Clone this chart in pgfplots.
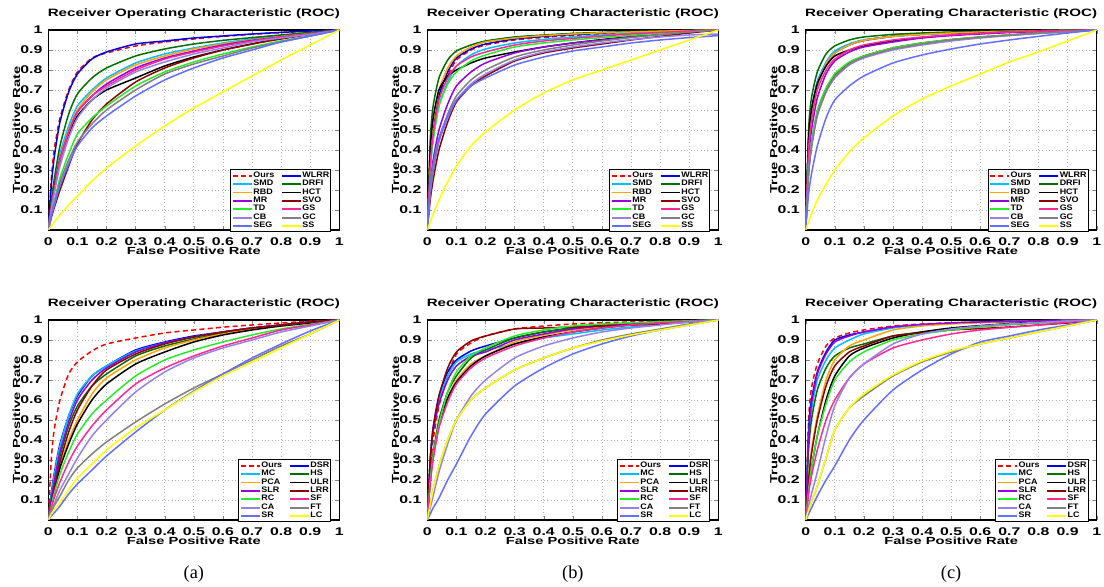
\documentclass[border=0pt]{standalone}
\usepackage{fontspec}
\setmainfont{Liberation Sans}
\newfontfamily\capfont{Liberation Serif}
\newfontfamily\wide[FakeStretch=1.42]{Liberation Sans}
\newfontfamily\lwide[FakeStretch=1.12]{Liberation Sans}
\usepackage{graphicx}
\usepackage{pgfplots}
\usepackage{pgfplotstable}
\pgfplotsset{compat=1.18}

\definecolor{cCyan}{RGB}{0,190,255}
\definecolor{cOrange}{RGB}{255,165,0}
\definecolor{cPurple}{RGB}{150,0,225}
\definecolor{cGreen}{RGB}{40,235,40}
\definecolor{cLav}{RGB}{150,130,230}
\definecolor{cSoftBlue}{RGB}{100,110,255}
\definecolor{cBlue}{RGB}{0,0,235}
\definecolor{cDkGreen}{RGB}{0,110,0}
\definecolor{cDkRed}{RGB}{140,0,0}
\definecolor{cPink}{RGB}{255,40,150}
\definecolor{cGray}{RGB}{128,128,128}
\definecolor{cYellow}{RGB}{255,255,0}

% FPR rows, one column per method
\pgfplotstableread{
x    Ours  SMD   RBD   MR    TD    CB    SEG   WLRR  DRFI  HCT   SVO   GS    GC    SS
0    0     0     0     0     0     0     0     0     0     0     0     0     0     0
0.01 0.25  0.12  0.12  0.11  0.08  0.10  0.07  0.22  0.14  0.12  0.06  0.11  0.07  0.02
0.02 0.40  0.22  0.21  0.20  0.14  0.18  0.12  0.36  0.25  0.21  0.11  0.20  0.13  0.04
0.04 0.56  0.38  0.36  0.35  0.26  0.32  0.22  0.54  0.42  0.35  0.20  0.35  0.24  0.075
0.07 0.70  0.52  0.50  0.49  0.38  0.46  0.33  0.69  0.58  0.48  0.32  0.49  0.35  0.125
0.10 0.79  0.62  0.60  0.59  0.48  0.56  0.42  0.78  0.68  0.57  0.43  0.59  0.44  0.17
0.15 0.86  0.70  0.69  0.67  0.56  0.65  0.51  0.855 0.76  0.65  0.55  0.67  0.53  0.245
0.20 0.885 0.76  0.75  0.73  0.62  0.71  0.57  0.89  0.81  0.70  0.63  0.72  0.60  0.31
0.30 0.92  0.835 0.825 0.81  0.72  0.79  0.67  0.93  0.87  0.76  0.74  0.80  0.70  0.42
0.40 0.94  0.88  0.87  0.86  0.79  0.84  0.75  0.945 0.905 0.82  0.81  0.855 0.78  0.52
0.50 0.955 0.91  0.905 0.895 0.84  0.88  0.81  0.96  0.93  0.865 0.86  0.89  0.83  0.61
0.60 0.968 0.935 0.93  0.925 0.88  0.91  0.86  0.97  0.948 0.90  0.90  0.92  0.87  0.69
0.70 0.978 0.955 0.95  0.948 0.915 0.94  0.90  0.98  0.962 0.93  0.93  0.945 0.91  0.77
0.80 0.987 0.97  0.967 0.965 0.945 0.96  0.94  0.988 0.975 0.96  0.955 0.965 0.94  0.85
0.90 0.994 0.985 0.982 0.98  0.97  0.978 0.97  0.995 0.988 0.98  0.978 0.98  0.97  0.925
1    1     1     1     1     1     1     1     1     1     1     1     1     1     1
}\tabA

\pgfplotstableread{
x    Ours  SMD   RBD   MR    TD    CB    SEG   WLRR  DRFI  HCT   SVO   GS    GC    SS
0    0     0     0     0     0     0     0     0     0     0     0     0     0     0
0.01 0.35  0.30  0.38  0.22  0.30  0.20  0.22  0.33  0.45  0.40  0.15  0.32  0.18  0.04
0.02 0.50  0.45  0.54  0.35  0.45  0.30  0.33  0.49  0.62  0.56  0.25  0.48  0.29  0.08
0.04 0.66  0.62  0.70  0.50  0.62  0.44  0.46  0.67  0.76  0.70  0.40  0.65  0.45  0.15
0.07 0.77  0.74  0.81  0.63  0.73  0.56  0.57  0.79  0.85  0.77  0.54  0.76  0.58  0.24
0.10 0.85  0.82  0.87  0.72  0.79  0.65  0.65  0.86  0.895 0.80  0.64  0.82  0.67  0.32
0.15 0.90  0.875 0.915 0.79  0.845 0.73  0.72  0.905 0.925 0.835 0.72  0.865 0.75  0.42
0.20 0.925 0.905 0.94  0.835 0.875 0.78  0.76  0.93  0.945 0.86  0.77  0.89  0.80  0.49
0.30 0.95  0.935 0.96  0.885 0.915 0.85  0.825 0.955 0.965 0.89  0.845 0.925 0.865 0.60
0.40 0.963 0.953 0.972 0.915 0.935 0.89  0.865 0.968 0.975 0.915 0.885 0.945 0.90  0.685
0.50 0.973 0.965 0.98  0.935 0.95  0.915 0.895 0.977 0.983 0.935 0.91  0.958 0.925 0.75
0.60 0.98  0.975 0.986 0.95  0.962 0.935 0.915 0.984 0.988 0.952 0.93  0.97  0.945 0.80
0.70 0.986 0.983 0.99  0.965 0.973 0.952 0.935 0.99  0.992 0.967 0.95  0.98  0.962 0.85
0.80 0.991 0.99  0.994 0.978 0.983 0.965 0.95  0.994 0.995 0.98  0.968 0.988 0.976 0.90
0.90 0.996 0.995 0.997 0.99  0.992 0.975 0.962 0.997 0.998 0.99  0.985 0.995 0.99  0.95
1    1     1     1     1     1     0.98  0.972 1     1     1     1     1     1     1
}\tabB

\pgfplotstableread{
x    Ours  SMD   RBD   MR    TD    CB    SEG   WLRR  DRFI  HCT   SVO   GS    GC    SS
0    0     0     0     0     0     0     0     0     0     0     0     0     0     0
0.01 0.40  0.42  0.40  0.35  0.30  0.30  0.18  0.45  0.50  0.45  0.28  0.40  0.28  0.04
0.02 0.56  0.58  0.56  0.50  0.44  0.43  0.28  0.60  0.66  0.60  0.42  0.55  0.41  0.08
0.04 0.72  0.74  0.72  0.66  0.60  0.58  0.42  0.74  0.79  0.73  0.58  0.70  0.57  0.15
0.07 0.83  0.84  0.83  0.78  0.71  0.69  0.56  0.83  0.88  0.82  0.70  0.80  0.69  0.23
0.10 0.89  0.895 0.885 0.845 0.78  0.76  0.65  0.885 0.92  0.87  0.775 0.855 0.765 0.30
0.15 0.93  0.93  0.925 0.89  0.84  0.825 0.72  0.925 0.95  0.90  0.835 0.90  0.83  0.39
0.20 0.95  0.95  0.948 0.915 0.87  0.86  0.77  0.947 0.965 0.92  0.87  0.925 0.865 0.46
0.30 0.97  0.968 0.968 0.94  0.91  0.90  0.835 0.968 0.978 0.945 0.91  0.95  0.905 0.57
0.40 0.98  0.978 0.978 0.96  0.935 0.925 0.875 0.978 0.985 0.962 0.935 0.965 0.93  0.655
0.50 0.986 0.985 0.985 0.972 0.952 0.945 0.905 0.985 0.99  0.975 0.952 0.976 0.95  0.72
0.60 0.99  0.99  0.99  0.98  0.965 0.96  0.93  0.99  0.993 0.983 0.965 0.984 0.963 0.78
0.70 0.994 0.993 0.993 0.987 0.975 0.972 0.95  0.993 0.995 0.99  0.975 0.99  0.974 0.84
0.80 0.996 0.996 0.996 0.992 0.984 0.982 0.968 0.996 0.997 0.994 0.985 0.994 0.984 0.89
0.90 0.998 0.998 0.998 0.996 0.992 0.99  0.985 0.998 0.999 0.997 0.993 0.997 0.992 0.945
1    1     1     1     1     1     1     1     1     1     1     1     1     1     1
}\tabC

\pgfplotstableread{
x    Ours  MC    PCA   SLR   RC    CA    SR    DSR   HS    ULR   LRR   SF    FT    LC
0    0     0     0     0     0     0     0     0     0     0     0     0     0     0
0.01 0.30  0.12  0.08  0.10  0.07  0.04  0.02  0.13  0.10  0.07  0.08  0.06  0.04  0.03
0.02 0.45  0.22  0.15  0.19  0.13  0.08  0.035 0.23  0.18  0.14  0.15  0.11  0.07  0.05
0.04 0.60  0.37  0.27  0.34  0.23  0.15  0.07  0.38  0.32  0.26  0.29  0.19  0.12  0.09
0.07 0.73  0.52  0.40  0.49  0.34  0.23  0.13  0.52  0.47  0.38  0.44  0.29  0.20  0.15
0.10 0.79  0.63  0.50  0.60  0.43  0.31  0.18  0.62  0.57  0.48  0.55  0.37  0.26  0.21
0.15 0.845 0.72  0.63  0.70  0.53  0.42  0.25  0.72  0.67  0.60  0.67  0.47  0.33  0.28
0.20 0.88  0.77  0.71  0.76  0.60  0.50  0.32  0.77  0.73  0.68  0.75  0.55  0.39  0.35
0.30 0.91  0.845 0.80  0.84  0.72  0.64  0.44  0.85  0.82  0.78  0.83  0.68  0.49  0.46
0.40 0.935 0.885 0.86  0.885 0.80  0.74  0.55  0.89  0.87  0.84  0.88  0.76  0.58  0.55
0.50 0.95  0.915 0.90  0.915 0.85  0.81  0.645 0.92  0.905 0.89  0.915 0.82  0.66  0.64
0.60 0.964 0.94  0.93  0.94  0.89  0.86  0.73  0.94  0.935 0.925 0.94  0.87  0.73  0.72
0.70 0.975 0.96  0.955 0.96  0.925 0.90  0.81  0.96  0.958 0.95  0.96  0.91  0.80  0.79
0.80 0.985 0.975 0.97  0.975 0.955 0.94  0.88  0.975 0.975 0.97  0.975 0.95  0.87  0.86
0.90 0.994 0.99  0.985 0.99  0.978 0.97  0.945 0.99  0.99  0.985 0.99  0.975 0.93  0.93
1    1     1     1     1     1     1     1     1     1     1     1     1     1     1
}\tabD

\pgfplotstableread{
x    Ours  MC    PCA   SLR   RC    CA    SR    DSR   HS    ULR   LRR   SF    FT    LC
0    0     0     0     0     0     0     0     0     0     0     0     0     0     0
0.01 0.25  0.30  0.20  0.30  0.20  0.06  0.03  0.30  0.20  0.20  0.30  0.18  0.08  0.08
0.02 0.40  0.45  0.32  0.44  0.32  0.12  0.06  0.46  0.33  0.32  0.46  0.30  0.15  0.15
0.04 0.57  0.60  0.48  0.58  0.48  0.24  0.11  0.62  0.50  0.48  0.62  0.46  0.27  0.27
0.07 0.72  0.72  0.61  0.70  0.64  0.38  0.20  0.74  0.64  0.61  0.76  0.59  0.40  0.40
0.10 0.83  0.79  0.70  0.77  0.74  0.50  0.28  0.80  0.72  0.69  0.84  0.68  0.50  0.50
0.15 0.885 0.83  0.78  0.82  0.82  0.62  0.42  0.845 0.81  0.77  0.895 0.76  0.60  0.60
0.20 0.92  0.85  0.82  0.84  0.86  0.70  0.53  0.87  0.85  0.82  0.92  0.81  0.66  0.66
0.30 0.955 0.88  0.89  0.90  0.92  0.81  0.67  0.91  0.91  0.88  0.955 0.87  0.75  0.75
0.40 0.97  0.91  0.925 0.93  0.95  0.87  0.76  0.94  0.94  0.915 0.96  0.91  0.81  0.81
0.50 0.98  0.93  0.95  0.955 0.97  0.91  0.83  0.96  0.96  0.94  0.965 0.94  0.86  0.86
0.60 0.986 0.95  0.965 0.97  0.98  0.94  0.88  0.972 0.973 0.96  0.97  0.96  0.90  0.895
0.70 0.99  0.965 0.975 0.98  0.986 0.96  0.92  0.982 0.983 0.975 0.975 0.975 0.93  0.925
0.80 0.994 0.978 0.985 0.988 0.991 0.975 0.95  0.99  0.99  0.985 0.98  0.985 0.955 0.95
0.90 0.997 0.99  0.993 0.994 0.996 0.99  0.975 0.995 0.995 0.993 0.99  0.993 0.98  0.975
1    1     1     1     1     1     1     1     1     1     1     1     1     1     1
}\tabE

\pgfplotstableread{
x    Ours  MC    PCA   SLR   RC    CA    SR    DSR   HS    ULR   LRR   SF    FT    LC
0    0     0     0     0     0     0     0     0     0     0     0     0     0     0
0.01 0.50  0.40  0.22  0.42  0.15  0.07  0.03  0.45  0.35  0.15  0.20  0.13  0.05  0.05
0.02 0.66  0.55  0.35  0.58  0.26  0.13  0.06  0.60  0.50  0.26  0.33  0.22  0.09  0.09
0.04 0.78  0.70  0.52  0.73  0.42  0.24  0.12  0.74  0.65  0.42  0.50  0.35  0.17  0.17
0.07 0.87  0.80  0.70  0.83  0.58  0.42  0.20  0.84  0.76  0.60  0.67  0.50  0.31  0.31
0.10 0.91  0.86  0.80  0.89  0.70  0.57  0.27  0.90  0.82  0.72  0.77  0.60  0.45  0.45
0.15 0.935 0.90  0.87  0.92  0.79  0.71  0.40  0.925 0.86  0.82  0.84  0.71  0.56  0.56
0.20 0.95  0.93  0.90  0.94  0.84  0.78  0.50  0.94  0.88  0.86  0.87  0.78  0.62  0.63
0.30 0.97  0.96  0.95  0.965 0.90  0.88  0.65  0.965 0.92  0.91  0.92  0.86  0.72  0.725
0.40 0.98  0.975 0.97  0.978 0.93  0.93  0.75  0.975 0.94  0.94  0.935 0.90  0.79  0.795
0.50 0.986 0.984 0.98  0.985 0.95  0.955 0.83  0.983 0.955 0.96  0.95  0.93  0.84  0.845
0.60 0.99  0.99  0.987 0.99  0.965 0.97  0.89  0.988 0.967 0.972 0.957 0.95  0.88  0.88
0.70 0.994 0.993 0.992 0.993 0.977 0.98  0.92  0.992 0.977 0.982 0.965 0.963 0.91  0.91
0.80 0.996 0.996 0.995 0.996 0.986 0.988 0.95  0.995 0.986 0.99  0.975 0.975 0.94  0.94
0.90 0.998 0.998 0.998 0.998 0.994 0.995 0.975 0.998 0.994 0.995 0.985 0.988 0.97  0.97
1    1     1     1     1     1     1     1     1     1     1     1     1     1     1
}\tabF

\pgfplotsset{
  rocaxis/.style={
    scale only axis, width=174.6pt, height=120pt,
    xmin=0, xmax=1, ymin=0, ymax=1,
    xtick={0,0.1,0.2,0.3,0.4,0.5,0.6,0.7,0.8,0.9,1},
    ytick={0.1,0.2,0.3,0.4,0.5,0.6,0.7,0.8,0.9,1},
    /pgf/number format/assume math mode=true,
    tick label style={font=\wide\bfseries\fontsize{6.7}{7}\selectfont},
    xticklabel style={yshift=-1.2pt},
    tick align=inside, major tick length=2.5pt,
    grid=major, grid style={dash pattern=on 0.6pt off 1.4pt, gray!60, line width=0.5pt},
    axis line style={line width=0.7pt},
    every axis title shift=0pt,
    title={Receiver Operating Characteristic (ROC)},
    title style={font=\wide\bfseries\fontsize{6.4}{7}\selectfont,
      at={(axis description cs:0.5,1.08)}, anchor=center},
    xlabel={False Positive Rate}, ylabel={True Positive Rate},
    label style={font=\wide\bfseries\fontsize{6.2}{7}\selectfont},
    xlabel style={at={(axis description cs:0.5,-0.105)}, anchor=center},
    ylabel style={at={(axis description cs:-0.11,0.5)}, anchor=center},
    legend columns=2, legend cell align=left,
    legend style={at={(axis description cs:0.973,-0.012)}, anchor=south east,
      font=\lwide\bfseries\fontsize{4.8}{5}\selectfont, inner sep=0.6pt,
      nodes={inner sep=0.4pt}, row sep=-0.6pt, line width=0.6pt,
      /tikz/every even column/.append style={column sep=3.5pt}},
    legend image code/.code={\draw[#1, line width=1.1pt] (0pt,0pt) -- (11.5pt,0pt);},
    every axis plot/.append style={line width=0.9pt, smooth, tension=0.4},
  },
}

\newcommand{\TopPlots}[1]{%
  \addplot[red, dash pattern=on 3pt off 2pt] table[x=x,y=Ours]{#1}; \addlegendentry{Ours}
  \addplot[cBlue] table[x=x,y=WLRR]{#1}; \addlegendentry{WLRR}
  \addplot[cCyan] table[x=x,y=SMD]{#1}; \addlegendentry{SMD}
  \addplot[cDkGreen] table[x=x,y=DRFI]{#1}; \addlegendentry{DRFI}
  \addplot[cOrange] table[x=x,y=RBD]{#1}; \addlegendentry{RBD}
  \addplot[black] table[x=x,y=HCT]{#1}; \addlegendentry{HCT}
  \addplot[cPurple] table[x=x,y=MR]{#1}; \addlegendentry{MR}
  \addplot[cDkRed] table[x=x,y=SVO]{#1}; \addlegendentry{SVO}
  \addplot[cGreen] table[x=x,y=TD]{#1}; \addlegendentry{TD}
  \addplot[cPink] table[x=x,y=GS]{#1}; \addlegendentry{GS}
  \addplot[cLav] table[x=x,y=CB]{#1}; \addlegendentry{CB}
  \addplot[cGray] table[x=x,y=GC]{#1}; \addlegendentry{GC}
  \addplot[cSoftBlue] table[x=x,y=SEG]{#1}; \addlegendentry{SEG}
  \addplot[cYellow] table[x=x,y=SS]{#1}; \addlegendentry{SS}
}

\newcommand{\BottomPlots}[1]{%
  \addplot[red, dash pattern=on 3pt off 2pt] table[x=x,y=Ours]{#1}; \addlegendentry{Ours}
  \addplot[cBlue] table[x=x,y=DSR]{#1}; \addlegendentry{DSR}
  \addplot[cCyan] table[x=x,y=MC]{#1}; \addlegendentry{MC}
  \addplot[cDkGreen] table[x=x,y=HS]{#1}; \addlegendentry{HS}
  \addplot[cOrange] table[x=x,y=PCA]{#1}; \addlegendentry{PCA}
  \addplot[black] table[x=x,y=ULR]{#1}; \addlegendentry{ULR}
  \addplot[cPurple] table[x=x,y=SLR]{#1}; \addlegendentry{SLR}
  \addplot[cDkRed] table[x=x,y=LRR]{#1}; \addlegendentry{LRR}
  \addplot[cGreen] table[x=x,y=RC]{#1}; \addlegendentry{RC}
  \addplot[cPink] table[x=x,y=SF]{#1}; \addlegendentry{SF}
  \addplot[cLav] table[x=x,y=CA]{#1}; \addlegendentry{CA}
  \addplot[cGray] table[x=x,y=FT]{#1}; \addlegendentry{FT}
  \addplot[cSoftBlue] table[x=x,y=SR]{#1}; \addlegendentry{SR}
  \addplot[cYellow] table[x=x,y=LC]{#1}; \addlegendentry{LC}
}

\begin{document}
\begin{tikzpicture}
\begin{axis}[rocaxis, at={(29pt,214.2pt)}, anchor=south west]
\TopPlots{\tabA}
\end{axis}
\begin{axis}[rocaxis, at={(256.4pt,214.2pt)}, anchor=south west]
\TopPlots{\tabB}
\end{axis}
\begin{axis}[rocaxis, at={(483.4pt,214.2pt)}, anchor=south west]
\TopPlots{\tabC}
\end{axis}
\begin{axis}[rocaxis, at={(29pt,40.2pt)}, anchor=south west]
\BottomPlots{\tabD}
\end{axis}
\begin{axis}[rocaxis, at={(256.4pt,40.2pt)}, anchor=south west]
\BottomPlots{\tabE}
\end{axis}
\begin{axis}[rocaxis, at={(483.4pt,40.2pt)}, anchor=south west]
\BottomPlots{\tabF}
\end{axis}
\node[font=\capfont\fontsize{11}{12}\selectfont] at (116.3pt,7.8pt) {(a)};
\node[font=\capfont\fontsize{11}{12}\selectfont] at (343.7pt,7.8pt) {(b)};
\node[font=\capfont\fontsize{11}{12}\selectfont] at (570.7pt,7.8pt) {(c)};
\pgfresetboundingbox
\path (0,0) rectangle (662.4pt,352.2pt);
\end{tikzpicture}
\end{document}
